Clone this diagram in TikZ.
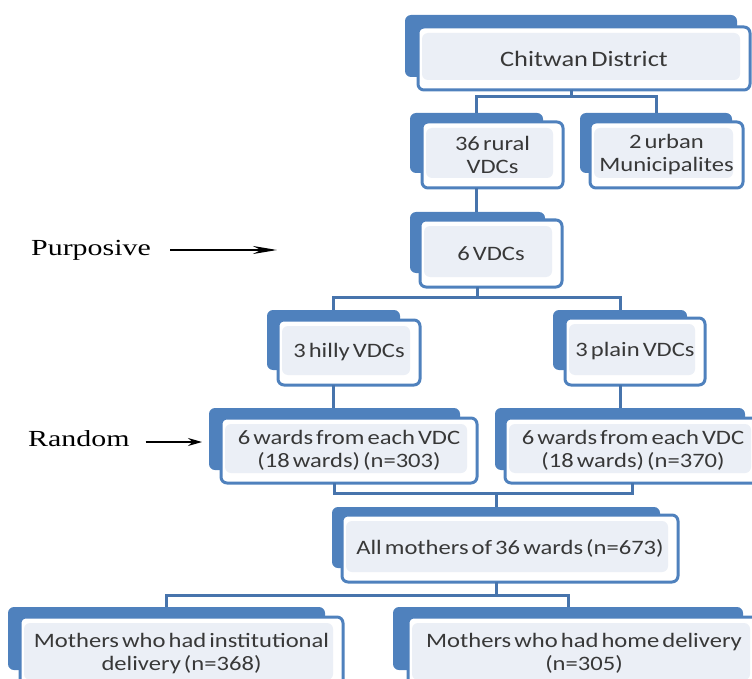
\documentclass[tikz,border=0pt]{standalone}
\usepackage{fontspec}
\setmainfont{Carlito}[FakeStretch=1.2,WordSpace=0.55]
\newfontfamily\labelfont{Liberation Serif}[FakeStretch=1.3]
\usetikzlibrary{arrows.meta,calc}
\definecolor{tabblue}{HTML}{4F81BD}
\definecolor{linkblue}{HTML}{4774AC}
\definecolor{panelfill}{HTML}{EBEFF6}
\definecolor{txtgray}{HTML}{383838}

\begin{document}
\begin{tikzpicture}[x=1pt,y=-1pt]
\tikzset{tab/.style = {shape=rectangle,fill=tabblue,rounded corners=6pt,inner sep=0pt,outer sep=0pt}}
\tikzset{card/.style = {shape=rectangle,draw=tabblue,line width=3pt,fill=white,rounded corners=6pt,
  inner sep=0pt,outer sep=0pt,align=center,text=txtgray,font=\fontsize{20.5}{23}\selectfont,
  path picture={\fill[panelfill] ([shift={(4pt,-6pt)}]path picture bounding box.north west)
    rectangle ([shift={(-10pt,10pt)}]path picture bounding box.south east);}}}
\tikzset{link/.style = {draw=linkblue,line width=3pt}}
\tikzset{pointer/.style = {-{Stealth[length=#1,width=8pt]},line width=1.6pt,black}}
\tikzset{lbl/.style = {inner sep=0pt,font=\labelfont\fontsize{23}{26}\selectfont}}
\useasboundingbox (0,0) rectangle (752,679);
% level 1
\node[tab,minimum width=332pt,minimum height=62pt] (chitTab) at (571,46) {};
\node[card,minimum width=332pt,minimum height=63pt,font=\fontsize{22}{25}\selectfont] (chit) at (584,58.5) {Chitwan District};
% level 2
\node[tab,minimum width=133pt,minimum height=60pt] (ruralTab) at (476.5,143) {};
\node[card,minimum width=141pt,minimum height=66pt] (rural) at (492.5,155) {36 rural\\VDCs};
\node[tab,minimum width=152pt,minimum height=60pt] (urbanTab) at (656,143) {};
\node[card,minimum width=153pt,minimum height=66pt] (urban) at (666.5,155) {2 urban\\Municipalites};
% level 3
\node[tab,minimum width=135pt,minimum height=61pt] (sixTab) at (477.5,242.5) {};
\node[card,minimum width=142pt,minimum height=67pt] (six) at (491,253.5) {6 VDCs};
% level 4
\node[tab,minimum width=133pt,minimum height=60pt] (hillyTab) at (333.5,340) {};
\node[card,minimum width=142pt,minimum height=65pt] (hilly) at (349,352.5) {3 hilly VDCs};
\node[tab,minimum width=134pt,minimum height=60pt] (plainTab) at (620,340) {};
\node[card,minimum width=140pt,minimum height=67pt] (plain) at (635,351.5) {3 plain VDCs};
% level 5
\node[tab,minimum width=251pt,minimum height=62pt] (wardLTab) at (334.5,439) {};
\node[card,minimum width=256pt,minimum height=65pt] (wardL) at (349,450.5) {6 wards from each VDC\\(18 wards) (n=303)};
\node[tab,minimum width=250pt,minimum height=62pt] (wardRTab) at (620,439) {};
\node[card,minimum width=256pt,minimum height=65pt] (wardR) at (633,450.5) {6 wards from each VDC\\(18 wards) (n=370)};
% level 6
\node[tab,minimum width=328pt,minimum height=61pt] (allTab) at (496,537.5) {};
\node[card,minimum width=336pt,minimum height=67pt] (all) at (510,548.5) {All mothers of 36 wards (n=673)};
% level 7
\node[tab,minimum width=317pt,minimum height=63pt] (instTab) at (166.5,638.5) {};
\node[card,minimum width=323pt,minimum height=73pt] (inst) at (181.5,653.5) {Mothers who had institutional\\delivery (n=368)};
\node[tab,minimum width=350pt,minimum height=63pt] (homeTab) at (568,638.5) {};
\node[card,minimum width=352pt,minimum height=73pt] (home) at (584,653.5) {Mothers who had home delivery\\(n=305)};
% connectors
\draw[link] (chitTab.south |- chit.south) -- ++(0,7) -| (ruralTab.north);
\draw[link] (chitTab.south |- chit.south) -- ++(0,7) -| (urbanTab.north);
\draw[link] (ruralTab.south |- rural.south) -- (ruralTab.south |- sixTab.north);
\draw[link] (sixTab.south |- six.south) -- ++(0,10) -| (hillyTab.north);
\draw[link] (sixTab.south |- six.south) -- ++(0,10) -| (plainTab.north);
\draw[link] (hillyTab.south |- hilly.south) -- (hillyTab.south |- wardLTab.north);
\draw[link] (plainTab.south |- plain.south) -- (wardRTab.north);
\draw[link] (wardLTab.south |- wardL.south) -- ++(0,10) -| (allTab.north);
\draw[link] ([xshift=12pt]wardRTab.south |- wardR.south) -- ++(0,10) -| (allTab.north);
\draw[link] (allTab.south |- all.south) -- ++(0,13) -| (instTab.north);
\draw[link] (allTab.south |- all.south) -- ++(0,13) -| (homeTab.north);
% sampling labels
\node[lbl,anchor=base west] (purp) at (31,255) {Purposive};
\coordinate (purpEnd) at (277,250);
\draw[pointer=24pt] ($(purp.east |- purpEnd)+(19,0)$) -- (purpEnd);
\node[lbl,anchor=base west] (rand) at (28,446) {Random};
\coordinate (randEnd) at (202,442);
\draw[pointer=14pt] ($(rand.east |- randEnd)+(16,0)$) -- (randEnd);
\end{tikzpicture}
\end{document}
